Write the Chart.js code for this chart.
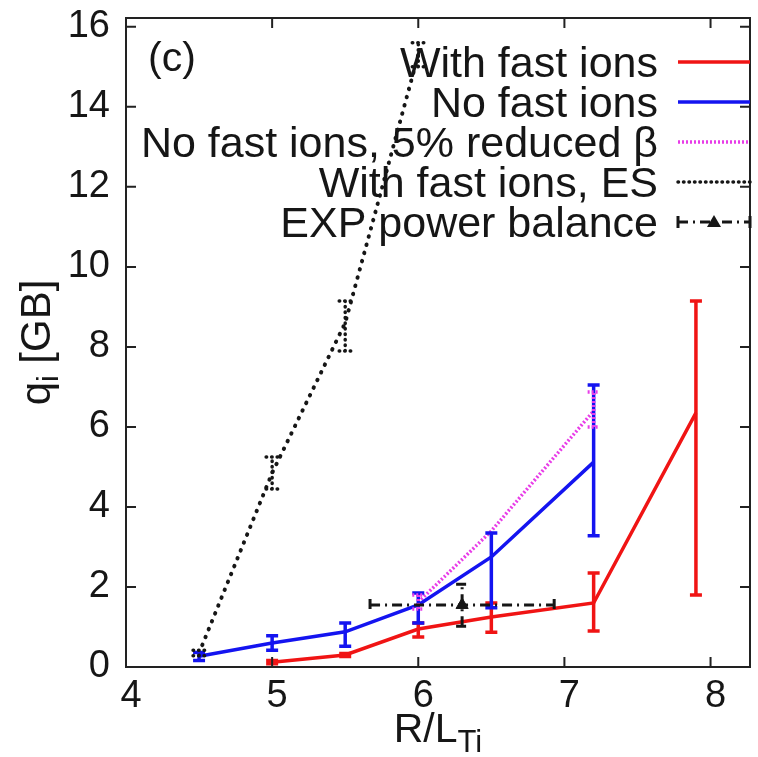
<!DOCTYPE html>
<html>
<head>
<meta charset="utf-8">
<script src="https://cdn.jsdelivr.net/npm/chart.js@4.4.1/dist/chart.umd.min.js"></script>
<style>
  html, body { margin: 0; padding: 0; background: #fff; }
  #wrap { width: 758px; height: 757px; }
</style>
</head>
<body>
<div id="wrap"><canvas id="chart"></canvas></div>
<script>
// ============================
// DATA
// ============================
const xTicks = [4, 5, 6, 7, 8];
const yTicks = [0, 2, 4, 6, 8, 10, 12, 14, 16];

// With fast ions
const xRed  = [5, 5.5, 6, 6.5, 7.2, 7.9];
const qRed  = [0.12, 0.3, 0.95, 1.25, 1.6, 6.35];
const redLo = [0.08, 0.26, 0.75, 0.87, 0.9, 1.8];
const redHi = [0.16, 0.34, 1.1, 1.6, 2.35, 9.15];

// No fast ions
const xBlue  = [4.5, 5, 5.5, 6, 6.5, 7.2];
const qBlue  = [0.27, 0.6, 0.88, 1.55, 2.75, 5.12];
const blueLo = [0.16, 0.42, 0.52, 1.1, 1.48, 3.28];
const blueHi = [0.36, 0.78, 1.1, 1.85, 3.35, 7.05];

// No fast ions, 5% reduced beta
const xBeta  = [6, 6.5, 7.2];
const qBeta  = [1.62, 3.4, 6.4];
const betaLo = [1.45, 3.4, 6.0];
const betaHi = [1.8, 3.4, 6.87];

// With fast ions, ES
const xES  = [4.5, 5, 5.5, 6];
const qES  = [0.35, 4.85, 8.6, 15.3];
const esLo = [0.28, 4.45, 7.9, 15.0];
const esHi = [0.42, 5.25, 9.15, 15.6];

// EXP power balance
const xExp   = [6.3];
const qExp   = [1.55];
const expXLo = [5.67];
const expXHi = [6.93];
const expYLo = [1.02];
const expYHi = [2.07];

const labels = [
  "With fast ions",
  "No fast ions",
  "No fast ions, 5% reduced \u03b2",
  "With fast ions, ES",
  "EXP power balance"
];

const FONT = '"Liberation Sans", Arial, Helvetica, sans-serif';
const RED = "rgb(240,20,20)";
const BLUE = "rgb(20,20,240)";
const MAGENTA = "rgb(232,60,232)";
const BLACK = "#161616";
const DASH_DOT = [10, 5, 2, 5];

function pts(xs, ys){
  return xs.map((x, i) => ({ x: x, y: ys[i] }));
}

// ============================
// PLUGINS
// ============================

// error bars drawn through the chart scales
const errorBars = {
  id: "errorBars",
  afterDatasetsDraw(chart){
    const { ctx, scales: { x, y } } = chart;
    const cap = 6;
    chart.data.datasets.forEach((ds, i) => {
      ctx.save();
      ctx.strokeStyle = ds.errColor || ds.borderColor;
      ctx.lineWidth = ds.errWidth || ds.borderWidth || 3;
      ctx.setLineDash(ds.errDash || []);
      ctx.lineCap = ds.errCap || "butt";
      ds.data.forEach((p, j) => {
        const px = x.getPixelForValue(p.x);
        const py = y.getPixelForValue(p.y);
        if(ds.yLo && ds.yHi[j] > ds.yLo[j]){
          const lo = y.getPixelForValue(ds.yLo[j]);
          const hi = y.getPixelForValue(ds.yHi[j]);
          ctx.beginPath();
          ctx.moveTo(px, lo); ctx.lineTo(px, hi);
          ctx.moveTo(px - cap, lo); ctx.lineTo(px + cap, lo);
          ctx.moveTo(px - cap, hi); ctx.lineTo(px + cap, hi);
          ctx.stroke();
        }
        if(ds.xLo){
          const lo = x.getPixelForValue(ds.xLo[j]);
          const hi = x.getPixelForValue(ds.xHi[j]);
          ctx.beginPath();
          ctx.moveTo(lo, py); ctx.lineTo(hi, py);
          ctx.moveTo(lo, py - cap); ctx.lineTo(lo, py + cap);
          ctx.moveTo(hi, py - cap); ctx.lineTo(hi, py + cap);
          ctx.stroke();
        }
      });
      ctx.restore();
    });
  }
};

// border box + inward ticks on all four sides (gnuplot style)
const plotFrame = {
  id: "plotFrame",
  afterDatasetsDraw(chart){
    const { ctx, chartArea: a, scales: { x, y } } = chart;
    const tl = 10;
    ctx.save();
    ctx.strokeStyle = "#222";
    ctx.lineWidth = 2;
    ctx.setLineDash([]);
    ctx.strokeRect(a.left, a.top, a.right - a.left, a.bottom - a.top);
    ctx.beginPath();
    xTicks.forEach(v => {
      const px = x.getPixelForValue(v);
      ctx.moveTo(px, a.bottom); ctx.lineTo(px, a.bottom - tl);
      ctx.moveTo(px, a.top);    ctx.lineTo(px, a.top + tl);
    });
    yTicks.forEach(v => {
      const py = y.getPixelForValue(v);
      ctx.moveTo(a.left, py);  ctx.lineTo(a.left + tl, py);
      ctx.moveTo(a.right, py); ctx.lineTo(a.right - tl, py);
    });
    ctx.stroke();
    ctx.restore();
  }
};

// axis titles with subscripts, panel tag, right-aligned legend
const annotations = {
  id: "annotations",
  afterDraw(chart){
    const { ctx, chartArea: a } = chart;
    ctx.save();
    ctx.fillStyle = BLACK;
    ctx.textBaseline = "alphabetic";
    ctx.textAlign = "left";

    // (c)
    ctx.font = "41px " + FONT;
    ctx.fillText("(c)", a.left + 22, 71);

    // x title  R/L_Ti
    const cx = (a.left + a.right) / 2;
    ctx.font = "41px " + FONT;
    const w1 = ctx.measureText("R/L").width;
    ctx.font = "31px " + FONT;
    const w2 = ctx.measureText("Ti").width;
    let sx = cx - (w1 + w2) / 2;
    ctx.font = "41px " + FONT;
    ctx.fillText("R/L", sx, 742);
    ctx.font = "31px " + FONT;
    ctx.fillText("Ti", sx + w1, 752);

    // y title  q_i [GB]
    const cy = (a.top + a.bottom) / 2;
    ctx.save();
    ctx.translate(50, cy);
    ctx.rotate(-Math.PI / 2);
    ctx.font = "42px " + FONT;
    const q = ctx.measureText("q").width;
    const gb = ctx.measureText(" [GB]").width;
    ctx.font = "30px " + FONT;
    const si = ctx.measureText("i").width;
    let ly = -(q + si + gb) / 2;
    ctx.font = "42px " + FONT;
    ctx.fillText("q", ly, 0);
    ctx.font = "30px " + FONT;
    ctx.fillText("i", ly + q, 8);
    ctx.font = "42px " + FONT;
    ctx.fillText(" [GB]", ly + q + si, 0);
    ctx.restore();

    // legend
    const rows = [62, 102, 142, 182, 222];
    const textRight = 658, s0 = 678, s1 = 750;
    ctx.font = "43px " + FONT;
    ctx.textAlign = "right";
    chart.data.datasets.forEach((ds, i) => {
      const ry = rows[i];
      ctx.fillStyle = BLACK;
      ctx.fillText(ds.label, textRight, ry + 15);
      ctx.save();
      ctx.strokeStyle = ds.legendColor || ds.borderColor;
      ctx.lineWidth = ds.errWidth || ds.borderWidth || 3;
      ctx.setLineDash(ds.errDash || ds.borderDash || []);
      ctx.lineCap = ds.errCap || "butt";
      ctx.beginPath();
      ctx.moveTo(s0, ry); ctx.lineTo(s1, ry);
      ctx.stroke();
      if(ds.xLo){
        ctx.setLineDash([]);
        ctx.beginPath();
        ctx.moveTo(s0, ry - 6); ctx.lineTo(s0, ry + 6);
        ctx.moveTo(s1, ry - 6); ctx.lineTo(s1, ry + 6);
        ctx.stroke();
        const m = (s0 + s1) / 2;
        ctx.fillStyle = BLACK;
        ctx.beginPath();
        ctx.moveTo(m, ry - 7); ctx.lineTo(m + 7, ry + 5); ctx.lineTo(m - 7, ry + 5);
        ctx.closePath();
        ctx.fill();
      }
      ctx.restore();
    });
    ctx.restore();
  }
};

// ============================
// CHART
// ============================
const ctx = document.getElementById("chart");

new Chart(ctx, {
  type: "line",
  data: {
    datasets: [
      {
        label: labels[0],
        data: pts(xRed, qRed),
        yLo: redLo, yHi: redHi,
        borderColor: RED,
        borderWidth: 3.5,
        pointRadius: 0,
        tension: 0
      },
      {
        label: labels[1],
        data: pts(xBlue, qBlue),
        yLo: blueLo, yHi: blueHi,
        borderColor: BLUE,
        borderWidth: 3.5,
        pointRadius: 0,
        tension: 0
      },
      {
        label: labels[2],
        data: pts(xBeta, qBeta),
        yLo: betaLo, yHi: betaHi,
        borderColor: MAGENTA,
        borderWidth: 3.5,
        borderDash: [2, 2],
        errDash: [2, 2],
        pointRadius: 0,
        tension: 0
      },
      {
        label: labels[3],
        data: pts(xES, qES),
        yLo: esLo, yHi: esHi,
        borderColor: BLACK,
        borderWidth: 4,
        borderDash: [0.5, 8],
        borderCapStyle: "round",
        errDash: [0.5, 5],
        errCap: "round",
        errWidth: 3.5,
        pointRadius: 0,
        tension: 0
      },
      {
        label: labels[4],
        data: pts(xExp, qExp),
        xLo: expXLo, xHi: expXHi,
        yLo: expYLo, yHi: expYHi,
        showLine: false,
        borderColor: BLACK,
        backgroundColor: BLACK,
        borderWidth: 3,
        errDash: DASH_DOT,
        pointStyle: "triangle",
        pointRadius: 7,
        pointBorderWidth: 1
      }
    ]
  },
  options: {
    responsive: true,
    maintainAspectRatio: false,
    animation: false,
    layout: { padding: { top: 18, right: 5, left: 0, bottom: 0 } },
    plugins: {
      legend: { display: false },
      tooltip: { enabled: false }
    },
    scales: {
      x: {
        type: "linear",
        min: 4,
        max: 8.27,
        afterBuildTicks: s => { s.ticks = xTicks.map(v => ({ value: v })); },
        afterFit: s => {
          s.height = 90;
          s.paddingLeft = 0; s.paddingRight = 0;
        },
        grid: { display: false, drawTicks: false },
        border: { display: false },
        ticks: {
          color: BLACK,
          font: { family: FONT, size: 38 },
          padding: 7,
          labelOffset: 5,
          maxRotation: 0
        }
      },
      y: {
        type: "linear",
        min: 0,
        max: 16.22,
        afterBuildTicks: s => { s.ticks = yTicks.map(v => ({ value: v })); },
        afterFit: s => {
          s.width = 126;
          s.paddingTop = 0; s.paddingBottom = 0;
        },
        grid: { display: false, drawTicks: false },
        border: { display: false },
        ticks: {
          color: BLACK,
          font: { family: FONT, size: 38 },
          padding: 16
        }
      }
    }
  },
  plugins: [errorBars, plotFrame, annotations]
});
</script>
</body>
</html>
